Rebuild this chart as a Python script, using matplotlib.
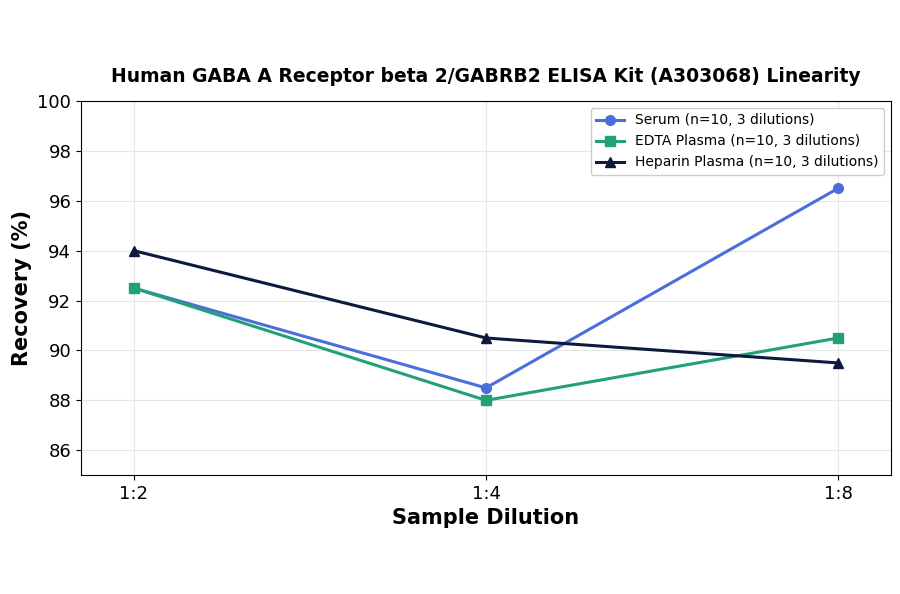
import matplotlib
matplotlib.use("Agg")
import matplotlib.pyplot as plt

dilutions = ["1:2", "1:4", "1:8"]
serum = [92.5, 88.5, 96.5]
edta = [92.5, 88.0, 90.5]
heparin = [94.0, 90.5, 89.5]

fig, ax = plt.subplots(figsize=(9, 5.94), dpi=100)
x = range(len(dilutions))
ax.plot(x, serum, marker="o", color="#4a6fdc", lw=2.2, ms=7, label="Serum (n=10, 3 dilutions)")
ax.plot(x, edta, marker="s", color="#22a07a", lw=2.2, ms=7, label="EDTA Plasma (n=10, 3 dilutions)")
ax.plot(x, heparin, marker="^", color="#0d1a3d", lw=2.2, ms=7, label="Heparin Plasma (n=10, 3 dilutions)")

ax.set_xticks(list(x))
ax.set_xticklabels(dilutions, fontsize=13)
ax.tick_params(axis="y", labelsize=13)
ax.set_ylim(85, 100)
ax.set_yticks(range(86, 101, 2))
ax.set_xlim(-0.15, 2.15)
ax.grid(True, color="#e6e6e6", lw=0.8)
ax.set_axisbelow(True)
ax.set_xlabel("Sample Dilution", fontsize=15, fontweight="bold")
ax.set_ylabel("Recovery (%)", fontsize=15, fontweight="bold")
ax.set_title("Human GABA A Receptor beta 2/GABRB2 ELISA Kit (A303068) Linearity",
             fontsize=13.5, fontweight="bold", pad=14)
ax.legend(loc="upper right", fontsize=10, framealpha=1)
fig.subplots_adjust(left=0.09, right=0.99, top=0.83, bottom=0.2)
fig.savefig("out.png", dpi=100)
